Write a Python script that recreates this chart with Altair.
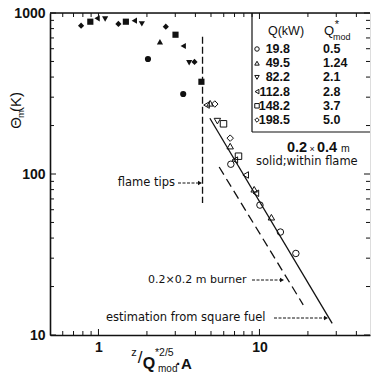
import altair as alt
import pandas as pd

# ---------------- data ----------------
Q_LABEL = ["19.8", "49.5", "82.2", "112.8", "148.2", "198.5"]   # Q (kW)
Q_MOD = ["0.5", "1.24", "2.1", "2.8", "3.7", "5.0"]              # Q*_mod
SHAPES = ["circle", "triangle-up", "triangle-down", "triangle-left", "square", "diamond"]

# measurements inside the flame (filled symbols)
IN_Q = ["198.5", "148.2", "112.8", "82.2", "198.5", "148.2", "112.8", "82.2",
        "198.5", "49.5", "19.8", "148.2", "112.8", "82.2", "198.5", "148.2", "19.8"]
IN_X = [0.78, 0.89, 0.98, 1.10, 1.33, 1.48, 1.67, 1.86,
        2.62, 2.41, 2.03, 3.01, 3.36, 3.66, 3.95, 4.36, 3.36]
IN_Y = [834, 883, 927, 918, 855, 883, 896, 855,
        822, 663, 518, 733, 624, 491, 497, 374, 314]

# measurements above the flame tips (open symbols)
OUT_Q = ["112.8", "49.5", "198.5", "82.2", "148.2", "198.5", "49.5", "148.2", "19.8",
         "112.8", "112.8", "49.5", "112.8", "19.8", "49.5", "19.8", "19.8"]
OUT_X = [4.69, 4.94, 5.28, 5.48, 5.98, 6.58, 6.58, 7.41, 6.64,
         7.03, 8.21, 9.27, 9.50, 10.07, 11.86, 13.49, 16.83]
OUT_Y = [268, 275, 272, 213, 205, 167, 149, 129, 115,
         122, 98.6, 80.4, 75.9, 64.1, 53.9, 43.6, 32.1]

# reference curves
SQUARE_FUEL_X = [4.92, 28.3]
SQUARE_FUEL_Y = [222, 11.8]
BURNER_X = [5.62, 18.7]
BURNER_Y = [110.5, 15.4]
TIPS_X = [4.43, 4.43]
TIPS_Y = [713, 66]

# axis ticks
X_MAJOR = [1, 10]
X_MINOR = [0.6, 0.7, 0.8, 0.9, 2, 3, 4, 5, 6, 7, 8, 9, 20, 30, 40]
Y_MAJOR = [10, 100, 1000]
Y_MINOR = [20, 30, 40, 50, 60, 70, 80, 90, 200, 300, 400, 500, 600, 700, 800, 900]

# ---------------- layout ----------------
W, H = 320, 322
FONT = "Liberation Sans"
NOTE_FONT = "DejaVu Sans"
INK = "#111111"

xs = alt.Scale(type="log", domain=[0.5, 48.6], nice=False)
ys = alt.Scale(type="log", domain=[10, 1000], nice=False)
shape_scale = alt.Scale(domain=Q_LABEL, range=SHAPES)

axis_style = dict(
    ticks=False, grid=False, title=None, labelFlush=False, labelPadding=5,
    labelFont=FONT, labelFontSize=14, labelFontWeight="bold", labelColor=INK,
    domainColor=INK, domainWidth=1.6, format="d",
)
X_AXIS = alt.Axis(values=X_MAJOR, **axis_style)
Y_AXIS = alt.Axis(values=Y_MAJOR, **axis_style)


def X(field):
    return alt.X(field, scale=xs, axis=X_AXIS)


def Y(field):
    return alt.Y(field, scale=ys, axis=Y_AXIS)


ONE = pd.DataFrame({"a": [0]})


def text(s, x, y, size=12, align="left", angle=0, weight="normal", font=FONT):
    return alt.Chart(ONE).mark_text(
        text=s, align=align, baseline="middle", angle=angle, font=font,
        fontSize=size, fontWeight=weight, color=INK,
    ).encode(x=alt.value(x), y=alt.value(y))


def hline(x0, x1, y, dash=None, width=1.2):
    kw = dict(color=INK, strokeWidth=width)
    if dash:
        kw["strokeDash"] = dash
    return alt.Chart(ONE).mark_rule(**kw).encode(
        x=alt.value(x0), x2=alt.value(x1), y=alt.value(y))


def vline(x, y0, y1, width=1.2):
    return alt.Chart(ONE).mark_rule(color=INK, strokeWidth=width).encode(
        x=alt.value(x), y=alt.value(y0), y2=alt.value(y1))


def arrow(x0, x1, y):
    head = alt.Chart(ONE).mark_point(
        shape="triangle-right", filled=True, size=22, color=INK, opacity=1
    ).encode(x=alt.value(x1), y=alt.value(y))
    return hline(x0, x1 - 2, y, dash=[3, 1.5], width=1) + head


def x_ticks(values, length, top):
    y0, y1 = (0, length) if top else (H - length, H)
    return alt.Chart(pd.DataFrame({"v": values})).mark_rule(color=INK, strokeWidth=1).encode(
        x=X("v:Q"), y=alt.value(y0), y2=alt.value(y1))


def y_ticks(values, length, right):
    x0, x1 = (W - length, W) if right else (0, length)
    return alt.Chart(pd.DataFrame({"v": values})).mark_rule(color=INK, strokeWidth=1).encode(
        y=Y("v:Q"), x=alt.value(x0), x2=alt.value(x1))


def curve(xv, yv, dash=None, width=1.3):
    kw = dict(color=INK, strokeWidth=width)
    if dash:
        kw["strokeDash"] = dash
    return alt.Chart(pd.DataFrame({"x": xv, "y": yv})).mark_line(**kw).encode(
        x=X("x:Q"), y=Y("y:Q"))


inside = pd.DataFrame({"x": IN_X, "y": IN_Y, "q": IN_Q})
outside = pd.DataFrame({"x": OUT_X, "y": OUT_Y, "q": OUT_Q})

pts_in = alt.Chart(inside).mark_point(filled=True, size=38, color=INK, opacity=1).encode(
    x=X("x:Q"), y=Y("y:Q"),
    shape=alt.Shape("q:N", scale=shape_scale, legend=None),
)
pts_out = alt.Chart(outside).mark_point(filled=False, size=42, strokeWidth=1, color=INK, opacity=1).encode(
    x=X("x:Q"), y=Y("y:Q"),
    shape=alt.Shape("q:N", scale=shape_scale, legend=None),
)

ticks = (
    x_ticks(X_MAJOR, 6, False) + x_ticks(X_MINOR, 4, False)
    + x_ticks(X_MAJOR, 6, True) + x_ticks(X_MINOR, 4, True)
    + y_ticks(Y_MAJOR, 6, False) + y_ticks(Y_MINOR, 4, False)
    + y_ticks(Y_MAJOR, 6, True) + y_ticks(Y_MINOR, 4, True)
)
frame = hline(0, W, 0, width=1.4)

curves = (
    curve(SQUARE_FUEL_X, SQUARE_FUEL_Y)
    + curve(BURNER_X, BURNER_Y, dash=[9, 5])
    + curve(TIPS_X, TIPS_Y, dash=[7, 3])
)

# legend table in the upper-right corner
ROW0, ROW_STEP = 36, 14.2
leg_df = pd.DataFrame({"q": Q_LABEL, "mod": Q_MOD, "row": list(range(len(Q_LABEL)))})
leg_base = alt.Chart(leg_df).transform_calculate(py=f"{ROW0} + datum.row * {ROW_STEP}")
leg_y = alt.Y("py:Q", scale=None)
leg_sym = leg_base.mark_point(filled=False, size=20, strokeWidth=1, color=INK, opacity=1).encode(
    x=alt.value(207), y=leg_y, shape=alt.Shape("q:N", scale=shape_scale, legend=None))
leg_q = leg_base.mark_text(align="right", baseline="middle", font=FONT, fontSize=12.5,
                           fontWeight="bold", color=INK).encode(
    x=alt.value(240), y=leg_y, text="q:N")
leg_mod = leg_base.mark_text(align="left", baseline="middle", font=FONT, fontSize=12.5,
                             fontWeight="bold", color=INK).encode(
    x=alt.value(273), y=leg_y, text="mod:N")
legend = (
    vline(202, 0, 119) + hline(202, W, 119)
    + leg_sym + leg_q + leg_mod
    + text("Q(kW)", 236, 18, 12.5, align="center")
    + text("Q", 279, 18, 13, align="center")
    + text("*", 287, 12, 11, align="center")
    + text("mod", 283, 23.5, 9, align="left")
)

annotations = (
    text("flame tips", 125, 170, 11.5, align="right", font=NOTE_FONT) + arrow(128, 150, 170)
    + text("0.2×0.2 m burner", 98, 267, 11, font=NOTE_FONT) + arrow(202, 232, 267)
    + text("estimation from square fuel", 56, 305, 11.5, font=NOTE_FONT) + arrow(224, 276, 305)
    + text("0.2", 237, 135, 14.5, weight="bold")
    + text("×", 262, 136, 9, align="center")
    + text("0.4", 267, 135, 14.5, weight="bold")
    + text("m", 291, 136, 10.5)
    + text("solid;within flame", 206, 149, 11.5, font=NOTE_FONT)
)

axis_titles = (
    text("Θ", -34, 110, 15, align="center", angle=270)
    + text("m", -29, 101, 9.5, align="center", angle=270)
    + text("(K)", -34, 89, 15, align="center", angle=270)
    + text("z", 84, 340, 11, align="center")
    + text("/", 90, 345, 17, align="center")
    + text("Q", 99, 350.5, 16, align="center", weight="bold")
    + text("*2/5", 105, 340, 10.5)
    + text("mod", 108, 355.5, 10)
    + text("·A", 126, 351, 15, weight="bold")
)

chart = (
    alt.layer(pts_in, ticks, frame, curves, pts_out, legend, annotations, axis_titles)
    .properties(width=W, height=H, autosize="none",
                padding={"left": 50, "top": 13, "right": 1, "bottom": 40})
    .configure_view(stroke="transparent")
    .configure(background="white")
)

chart.save("out.html", embed_options={"renderer": "svg", "actions": False})
